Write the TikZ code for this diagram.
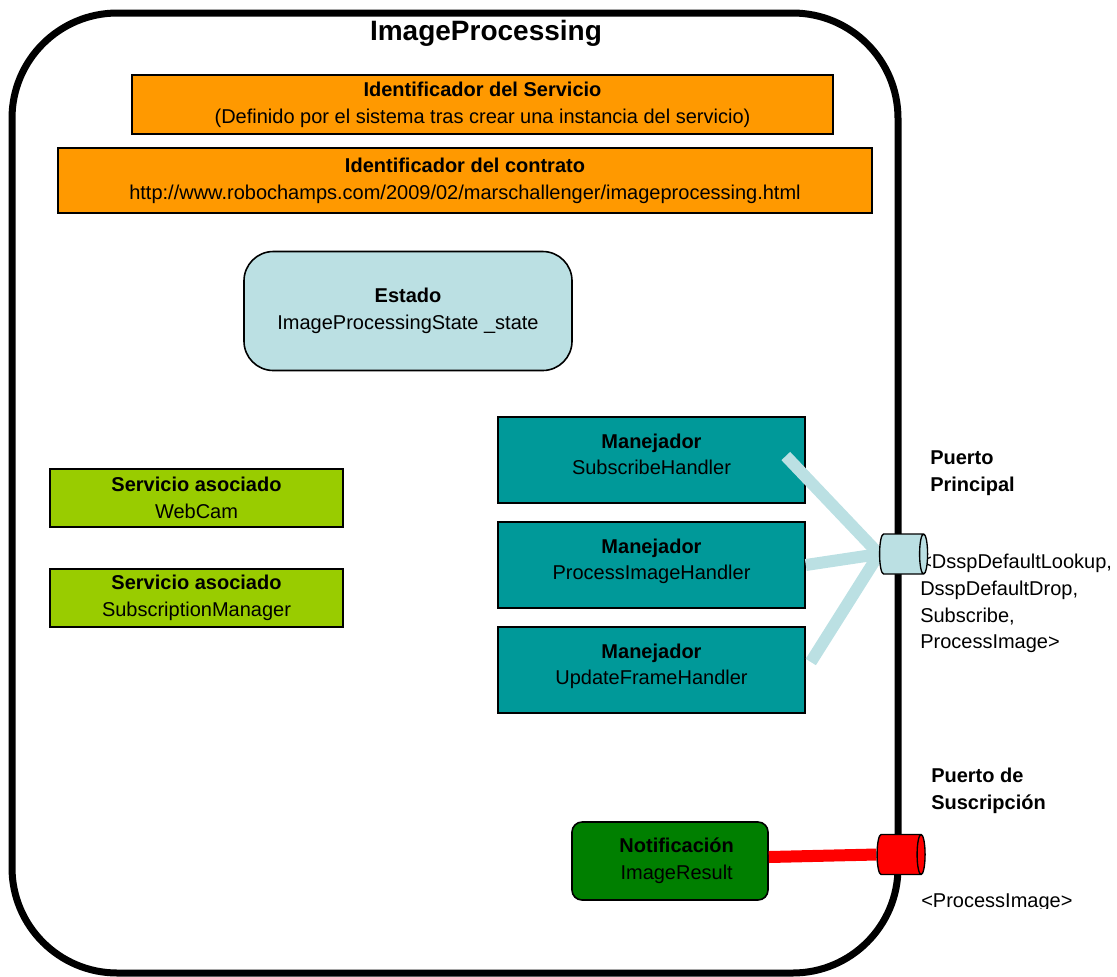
\documentclass[tikz,border=0pt]{standalone}
\usepackage{fontspec}
\setmainfont{Liberation Sans}
\usetikzlibrary{shapes.geometric,calc}
\pgfdeclarelayer{front}
\pgfsetlayers{main,front}
\definecolor{idorange}{HTML}{FF9900}
\definecolor{assocgreen}{HTML}{99CC00}
\definecolor{handlerteal}{HTML}{009999}
\definecolor{statecyan}{HTML}{BBE0E3}
\definecolor{notifgreen}{HTML}{007F00}
\definecolor{subred}{HTML}{FF0000}
\begin{document}
\begin{tikzpicture}[x=0.75pt, y=-0.75pt,
    box/.style={draw, line width=1.2pt, align=center, inner sep=2pt,
      font=\fontsize{15}{20}\selectfont},
    idbox/.style={box, fill=idorange},
    assocbox/.style={box, fill=assocgreen, minimum width=219.75pt, minimum height=43.5pt},
    handlerbox/.style={box, fill=handlerteal, minimum width=230.25pt, minimum height=64.5pt,
      text height=31pt, text depth=9pt},
    port/.style={cylinder, draw, line width=1pt, minimum height=36pt, minimum width=30pt,
      aspect=0.9},
    sidetext/.style={anchor=west, align=left, inner sep=0pt, font=\fontsize{15}{20}\selectfont},
    wire/.style={line width=9pt}]
  \useasboundingbox (0,0) rectangle (1117,976);
  \draw[line width=5.25pt, rounded corners=79pt] (12,13) rectangle (898,973);
  \node[font=\fontsize{21}{25}\selectfont\bfseries] (title) at (486,33) {ImageProcessing};

  \node[idbox, minimum width=525.75pt, minimum height=44.25pt] (svcid) at (482.5,104.5)
    {\textbf{Identificador del Servicio}\\(Definido por el sistema tras crear una instancia del servicio)};
  \node[idbox, minimum width=610.5pt, minimum height=48.75pt] (contractid) at (465,180.5)
    {\textbf{Identificador del contrato}\\http://www.robochamps.com/2009/02/marschallenger/imageprocessing.html};
  \node[box, fill=statecyan, rounded corners=22pt, minimum width=246pt, minimum height=89.25pt] (state) at (408,311)
    {\textbf{Estado}\\ImageProcessingState \_state};

  \node[assocbox] (webcam) at (196.5,498) {\textbf{Servicio asociado}\\WebCam};
  \node[assocbox] (submgr) at (196.5,598) {\textbf{Servicio asociado}\\SubscriptionManager};

  \node[handlerbox] (subhandler) at (651.5,460) {\textbf{Manejador}\\SubscribeHandler};
  \node[handlerbox] (prochandler) at (651.5,565) {\textbf{Manejador}\\ProcessImageHandler};
  \node[handlerbox] (updhandler) at (651.5,670) {\textbf{Manejador}\\UpdateFrameHandler};

  \node[box, fill=notifgreen, rounded corners=7.5pt, minimum width=147pt, minimum height=58.5pt] (notif) at (670,861)
    {\hspace*{10pt}\textbf{Notificación}\\\hspace*{10pt}ImageResult};

  % ports sit on the frame
  \begin{pgfonlayer}{front}
    \node[port, fill=statecyan] (mainport) at (900,554) {};
    \node[port, fill=subred] (subport) at (897.5,854.5) {};
  \end{pgfonlayer}
  \draw[wire, statecyan] ($(subhandler.east)+(-20,-4)$) -- (mainport.west);
  \draw[wire, statecyan] (prochandler.east) -- (mainport.west);
  \draw[wire, statecyan] ($(updhandler.east)+(5,-8)$) -- (mainport.west);
  \draw[wire, subred] ($(notif.east)+(0,-4)$) -- (subport.west);

  \node[sidetext, font=\fontsize{15}{20}\selectfont\bfseries] (mainlabel) at (930,473) {Puerto\\Principal};
  \node[sidetext] (mainmsgs) at (920,603.5) {<DsspDefaultLookup,\\DsspDefaultDrop,\\Subscribe,\\ProcessImage>};
  \node[sidetext, font=\fontsize{15}{20}\selectfont\bfseries] (sublabel) at (931,791) {Puerto de\\Suscripción};
  \begin{scope}
    \clip (905,880) rectangle (1117,908);
    \node[sidetext] (submsgs) at (921,903) {<ProcessImage>};
  \end{scope}
\end{tikzpicture}
\end{document}
